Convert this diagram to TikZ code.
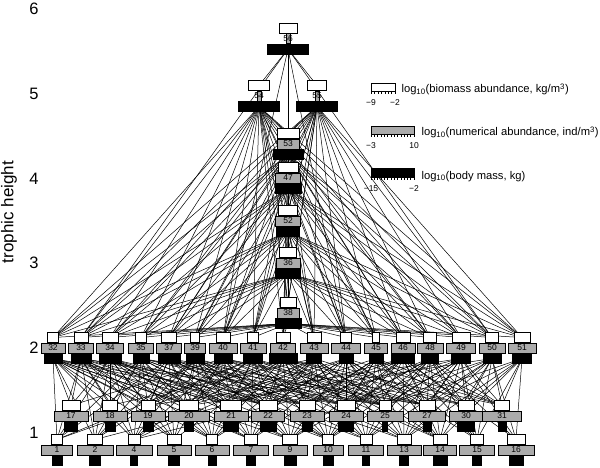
\documentclass[tikz,border=0pt]{standalone}
\usepackage{fontspec}
\setmainfont{Liberation Sans}
\usepackage{tikz}
\usetikzlibrary{positioning}
\usetikzlibrary{backgrounds}
\tikzset{box/.style={draw,line width=0.5pt,inner sep=0pt,minimum height=10pt}}
\tikzset{wbox/.style={box,fill=white}}
\tikzset{gbox/.style={box,fill=black!33,font=\fontsize{8.5}{8.5}\selectfont}}
\tikzset{bbox/.style={box,fill=black}}
\tikzset{link/.style={line width=0.5pt}}
\tikzset{lg/.style={font=\fontsize{11.2}{11.2}\selectfont}}
\tikzset{tk/.style={font=\fontsize{8.5}{8.5}\selectfont}}
\tikzset{ax/.style={font=\fontsize{16.5}{16.5}\selectfont}}
\newcommand{\foodnode}[6]{%
  \node[gbox,minimum width=#5pt] (g#1) at (#2,#3) {\makebox[0pt]{#1}};
  \node[wbox,minimum width=#4pt,above=0pt of g#1] (w#1) {};
  \node[bbox,minimum width=#6pt,below=0pt of g#1] (b#1) {};}
\begin{document}
\begin{tikzpicture}[x=1pt,y=-1pt]
      \useasboundingbox (0,0) rectangle (600,468);
      % species: id/x/y/biomass/abundance/body mass
      \foreach \id/\px/\ww/\gw/\bw in {1/57/11/31/10,2/95/15/36/11,4/134/12/36/7,
        5/174/14/34/11,6/212/11/34/8,7/251/13/35/9,9/290/15/34/12,10/328/11/30/10,
        11/366/12/35/7,13/404/14/34/9,14/440/14/33/14,15/477/13/35/9,16/516/18/36/14}
        {\foodnode{\id}{\px}{450}{\ww}{\gw}{\bw}}
      \foreach \id/\px/\ww/\gw/\bw in {17/71/18/34/13,18/110/15/34/10,19/148/14/34/10,
        20/189/19/41/9,21/231/21/34/15,22/268/18/33/16,23/307/16/34/10,24/346/18/34/15,
        25/385/12/36/5,27/427/16/37/8,30/466/16/34/17,31/502/15/39/8}
        {\foodnode{\id}{\px}{416}{\ww}{\gw}{\bw}}
      \foreach \id/\px/\ww/\gw/\bw in {32/53/11/24/18,33/81/14/25/20,34/110/16/27/22,
        35/141/11/25/16,37/169/15/25/22,39/195/9/21/18,40/223/14/28/18,41/253/11/26/19,
        42/283/14/25/28,43/314/14/28/15,44/346/11/29/14,45/376/7/23/14,46/403/14/24/23,
        48/430/13/26/17,49/461/18/29/19,50/492/13/26/18,51/522/16/28/19}
        {\foodnode{\id}{\px}{348}{\ww}{\gw}{\bw}}
      \foreach \id/\py/\ww/\gw/\bw in {53/144/22/22/30,47/178/20/25/26,52/221/19/25/23,
        36/263/17/24/25,38/313/16/22/26}
        {\foodnode{\id}{288}{\py}{\ww}{\gw}{\bw}}
      \foodnode{56}{288}{38.5}{18}{4}{41}
      \foodnode{54}{259}{96}{21}{4}{41}
      \foodnode{55}{317}{96}{19}{4}{41}
      % feeding links
      \begin{scope}[on background layer]
        \foreach \pred/\preys in {
          56/{54,55,53,47,52,36,38,33,40,44,50},
          54/{53,47,52,36,38,32,33,34,35,37,39,40,41,42,43,44,45,46,48,49,50,51},
          55/{53,47,52,36,38,32,33,34,35,37,39,40,41,42,43,44,45,46,48,49,50,51},
          53/{47,52,36,38,32,33,34,35,37,39,40,41,42,43,44,45,46,48,49,50,51},
          47/{52,36,38,32,33,34,35,37,39,40,41,42,43,44,45,46,48,49,50,51},
          52/{36,38,32,33,34,35,37,39,40,41,42,43,44,45,46,48,49,50,51},
          36/{38,32,33,34,35,37,39,40,41,42,43,44,45,46,48,49,50,51},
          38/{32,33,34,35,37,39,40,41,42,43,44,45,46,48,49,50,51},
          32/{1,2,4,5,6,7,9,17,18,19,20,21,22,23},
          33/{1,2,4,5,6,7,17,18,19,20,21,22,24,25},
          34/{1,2,4,5,6,7,9,10,17,18,19,20,21,22,23},
          35/{1,2,4,5,6,9,11,18,19,20,21,22,24,25,27},
          37/{1,2,4,5,6,7,10,13,19,20,21,22,23,24,27},
          39/{2,4,5,6,7,9,10,11,19,20,21,22,23,24,25},
          40/{2,4,5,6,7,9,10,13,17,20,21,22,24,25,27,30},
          41/{1,4,6,7,9,10,11,14,19,20,21,22,23,25,27},
          42/{1,5,6,7,9,10,11,13,14,20,22,23,24,25,27,30,31},
          43/{4,6,7,9,10,11,13,14,18,21,22,23,24,25,30},
          44/{6,7,9,10,11,13,14,15,20,21,22,24,25,27,31},
          45/{7,9,10,11,13,14,15,21,23,24,25,27,30,31},
          46/{2,9,10,11,13,14,15,16,22,23,24,27,30,31},
          48/{9,10,11,13,14,15,16,23,24,25,27,30,31},
          49/{4,10,11,13,14,15,16,19,24,25,27,30,31},
          50/{11,13,14,15,16,20,24,25,27,30,31},
          51/{13,14,15,16,25,27,30,31}}
          {\foreach \q in \preys {\draw[link] (b\pred) -- (w\q);}}
      \end{scope}
      % axis
      \foreach \t/\py in {1/433,2/348,3/263,4/179,5/94,6/9}
        \node[ax] (h\t) at (34,\py) {\t};
      \node[ax,rotate=90,font=\fontsize{17}{17}\selectfont] (ylab) at (9,212) {trophic height};
      % legend
      \node[wbox,minimum width=24pt,minimum height=8pt,anchor=north west] (lw) at (371,83) {};
      \foreach \i in {0,...,7} \draw (371+\i*24/7,91) -- ++(0,3);
      \node[tk] (lw0) at (371,103) {−9};
      \node[tk] (lw1) at (395,103) {−2};
      \node[lg,anchor=base west] (lwt) at (398,93) {log\textsubscript{10}(biomass abundance, kg/m\textsuperscript{3})};
      \node[gbox,minimum width=43pt,minimum height=8pt,anchor=north west] (lg) at (371,126) {};
      \foreach \i in {0,...,13} \draw (371+\i*43/13,134) -- ++(0,3);
      \node[tk] (lg0) at (371,146) {−3};
      \node[tk] (lg1) at (414,146) {10};
      \node[lg,anchor=base west] (lgt) at (418,136) {log\textsubscript{10}(numerical abundance, ind/m\textsuperscript{3})};
      \node[bbox,minimum width=43pt,minimum height=9pt,anchor=north west] (lb) at (371,168) {};
      \foreach \i in {0,...,13} \draw (371+\i*43/13,177) -- ++(0,3);
      \node[tk] (lb0) at (371,189) {−15};
      \node[tk] (lb1) at (414,189) {−2};
      \node[lg,anchor=base west] (lbt) at (418,179) {log\textsubscript{10}(body mass, kg)};
    \end{tikzpicture}
\end{document}
